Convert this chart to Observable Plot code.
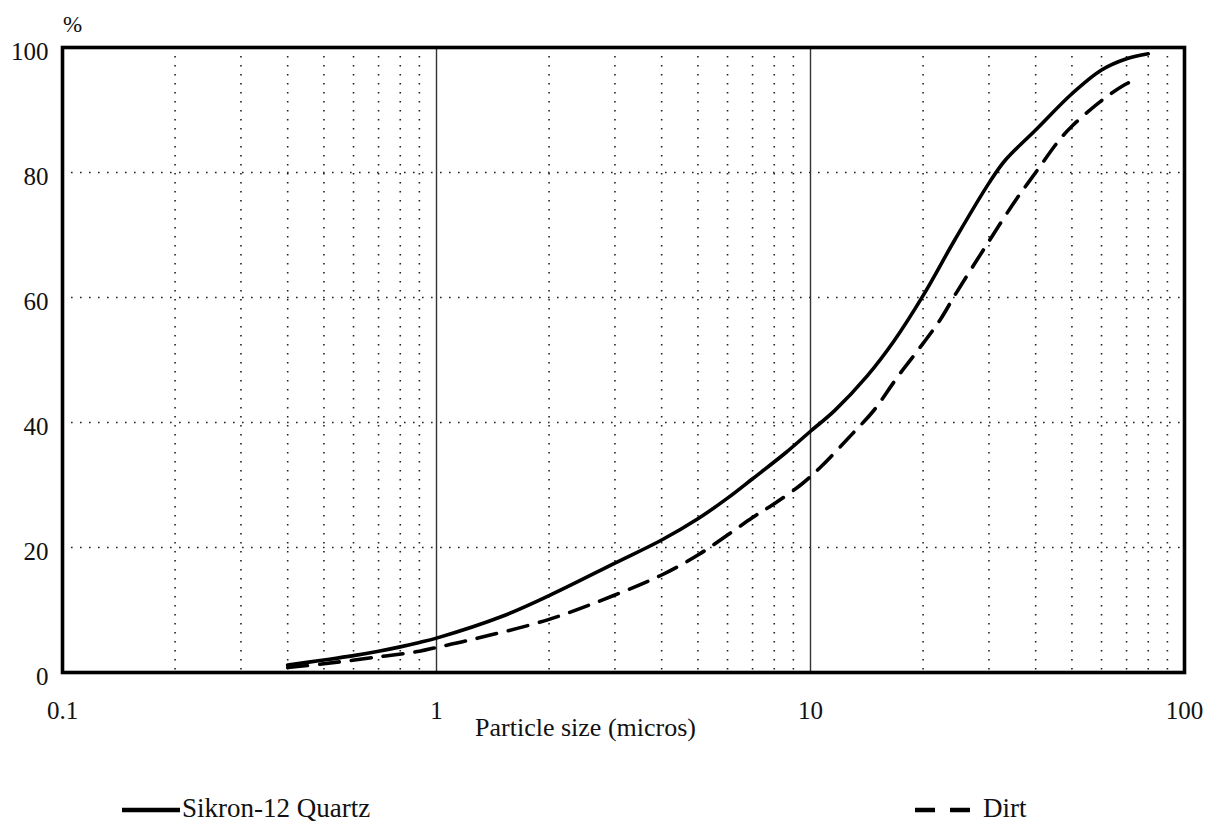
<!DOCTYPE html>
<html>
<head>
<meta charset="utf-8">
<script src="https://cdn.jsdelivr.net/npm/d3@7"></script>
<script src="https://cdn.jsdelivr.net/npm/@observablehq/plot@0.6"></script>
<style>
  html, body { margin: 0; padding: 0; background: #fff; }
  #chart svg { display: block; }
</style>
</head>
<body>
<div id="chart"></div>
<script>
// ---- Data ----
const seriesNames = ["Sikron-12 Quartz", "Dirt"];

const quartzSize = [0.4, 0.5, 0.6, 0.7, 0.8, 0.9, 1, 1.5, 2, 3, 4, 5, 6, 7, 8.6, 10, 11.6, 14.2, 16.7, 20, 24.3, 30, 33.2, 40, 50, 60, 70, 80];
const quartzPct  = [1.2, 2.0, 2.7, 3.4, 4.1, 4.8, 5.5, 9.0, 12.3, 17.5, 21.2, 24.6, 27.9, 31.0, 35.2, 38.6, 41.9, 47.5, 53.0, 60.3, 69.2, 78.3, 82.0, 86.8, 92.6, 96.4, 98.2, 99.0];

const dirtSize = [0.4, 0.5, 0.7, 0.9, 1, 1.25, 2, 3, 4, 5, 6, 7, 8, 9.5, 10.7, 12.9, 14.8, 17, 19.4, 22.2, 24.4, 30, 35.4, 40, 46, 50, 60, 69, 75];
const dirtPct  = [0.8, 1.4, 2.5, 3.4, 4.0, 5.3, 8.5, 12.4, 15.6, 18.8, 22.0, 24.8, 27.0, 30.2, 33.0, 38.1, 42.0, 47.1, 51.6, 56.4, 60.5, 69.0, 75.6, 80.0, 85.0, 87.4, 91.5, 94.0, 95.0];

const xTicks = [0.1, 1, 10, 100];
const yTicks = [0, 20, 40, 60, 80, 100];
const yGrid = [20, 40, 60, 80];
const xMajorGrid = [1, 10];
const xMinorGrid = [0.2, 0.3, 0.4, 0.5, 0.6, 0.7, 0.8, 0.9, 2, 3, 4, 5, 6, 7, 8, 9, 20, 30, 40, 50, 60, 70, 80, 90];
const yUnit = "%";
const xTitle = "Particle size (micros)";

const quartz = quartzSize.map((s, i) => ({size: s, pct: quartzPct[i]}));
const dirt = dirtSize.map((s, i) => ({size: s, pct: dirtPct[i]}));

const font = "'Liberation Serif', 'Times New Roman', serif";
const dotted = {stroke: "#222", strokeWidth: 1.6, strokeDasharray: "1.6,7.4"};

const chart = Plot.plot({
  width: 1219,
  height: 756,
  marginLeft: 62,
  marginRight: 35,
  marginTop: 47,
  marginBottom: 84,
  style: {fontFamily: font, fontSize: "25px", color: "#111", background: "#fff", overflow: "visible"},
  x: {type: "log", domain: [0.1, 100]},
  y: {domain: [0, 100]},
  marks: [
    Plot.ruleX(xMinorGrid, dotted),
    Plot.ruleY(yGrid, dotted),
    Plot.ruleX(xMajorGrid, {stroke: "#333", strokeWidth: 1.4}),
    Plot.line(quartz, {x: "size", y: "pct", curve: "catmull-rom", stroke: "#000", strokeWidth: 3.6}),
    Plot.line(dirt, {x: "size", y: "pct", curve: "catmull-rom", stroke: "#000", strokeWidth: 3.6, strokeDasharray: "20,12"}),
    Plot.frame({stroke: "#000", strokeWidth: 3.6}),
    Plot.axisX({ticks: xTicks, tickSize: 0, tickPadding: 29, tickFormat: d => String(d), label: null, fontSize: 25}),
    Plot.axisY({ticks: yTicks, tickSize: 0, tickPadding: 14, label: null, dy: 4, fontSize: 25}),
    Plot.text([yUnit], {frameAnchor: "top-left", textAnchor: "middle", lineAnchor: "middle", dx: 10, dy: -23, fontSize: 23}),
    Plot.text([xTitle], {frameAnchor: "bottom", textAnchor: "middle", lineAnchor: "middle", dx: -38, dy: 55, fontSize: 26})
  ]
});
document.getElementById("chart").appendChild(chart);

// ---- Legend (below the SVG) ----
const legend = d3.select("body").append("svg")
  .attr("width", 1219).attr("height", 68)
  .style("display", "block")
  .style("font-family", font);
const items = [
  {name: seriesNames[0], x1: 122, x2: 180, dash: null, tx: 182},
  {name: seriesNames[1], x1: 915, x2: 975, dash: "20,15", tx: 983}
];
for (const it of items) {
  legend.append("line")
    .attr("x1", it.x1).attr("x2", it.x2).attr("y1", 54).attr("y2", 54)
    .attr("stroke", "#000").attr("stroke-width", 4.5)
    .attr("stroke-dasharray", it.dash);
  legend.append("text")
    .attr("x", it.tx).attr("y", 61)
    .attr("font-size", 27).attr("fill", "#111")
    .text(it.name);
}
</script>
</body>
</html>
